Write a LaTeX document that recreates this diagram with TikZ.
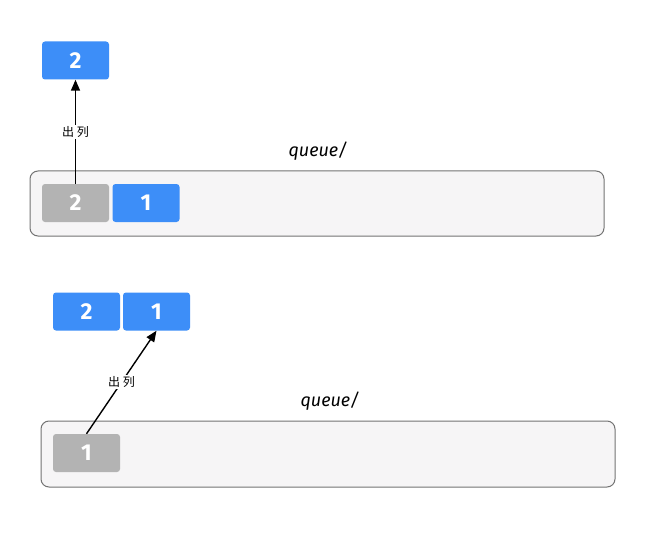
\documentclass[tikz,border=0pt]{standalone}
\usepackage{fontspec}
\setmainfont{Fira Sans}
\newfontfamily\cjk{Noto Sans CJK SC}
\usetikzlibrary{arrows.meta}
\definecolor{qblue}{HTML}{3D8EF8}
\definecolor{qgray}{HTML}{B3B3B3}
\definecolor{qfill}{HTML}{F6F5F6}
\definecolor{qline}{HTML}{737373}
\tikzset{
  cell/.style={rounded corners=3pt, minimum width=67pt, minimum height=38pt, inner sep=0pt, text=white, font=\fontsize{23}{23}\selectfont\bfseries},
  bluecell/.style={cell, fill=qblue},
  graycell/.style={cell, fill=qgray},
  container/.style={draw=qline, line width=1pt, fill=qfill, rounded corners=8pt},
  qlabel/.style={font=\itshape\fontsize{18}{18}\selectfont, text=black},
  outarrow/.style={-{Triangle[length=11pt,width=9pt]}, line width=1.4pt},
  outlabel/.style={fill=white, font=\cjk\fontsize{12}{12}\selectfont, inner sep=1.5pt}
}
\begin{document}
\begin{tikzpicture}[x=1pt,y=-1pt]
\useasboundingbox[fill=white] (0,0) rectangle (647,548);
% top part
\draw[container] (30,171) rectangle (604,236);
\node[qlabel] (q1) at (318,151) {queue/};
\node[bluecell] (t2) at (75.5,60.5) {2};
\node[graycell] (g2) at (75.5,203) {2};
\node[bluecell] (g1) at (146,203) {1};
\draw[outarrow] (g2.north) -- node[outlabel] {出 列} (t2.south);
% bottom part
\draw[container] (41,421) rectangle (615,487);
\node[qlabel] (q2) at (330,401) {queue/};
\node[bluecell] (b2) at (86.5,311.5) {2};
\node[bluecell] (b1) at (156.5,311.5) {1};
\node[graycell] (h1) at (86.5,453) {1};
\draw[outarrow] (h1.north) -- node[outlabel] {出 列} (b1.south);
\end{tikzpicture}
\end{document}
